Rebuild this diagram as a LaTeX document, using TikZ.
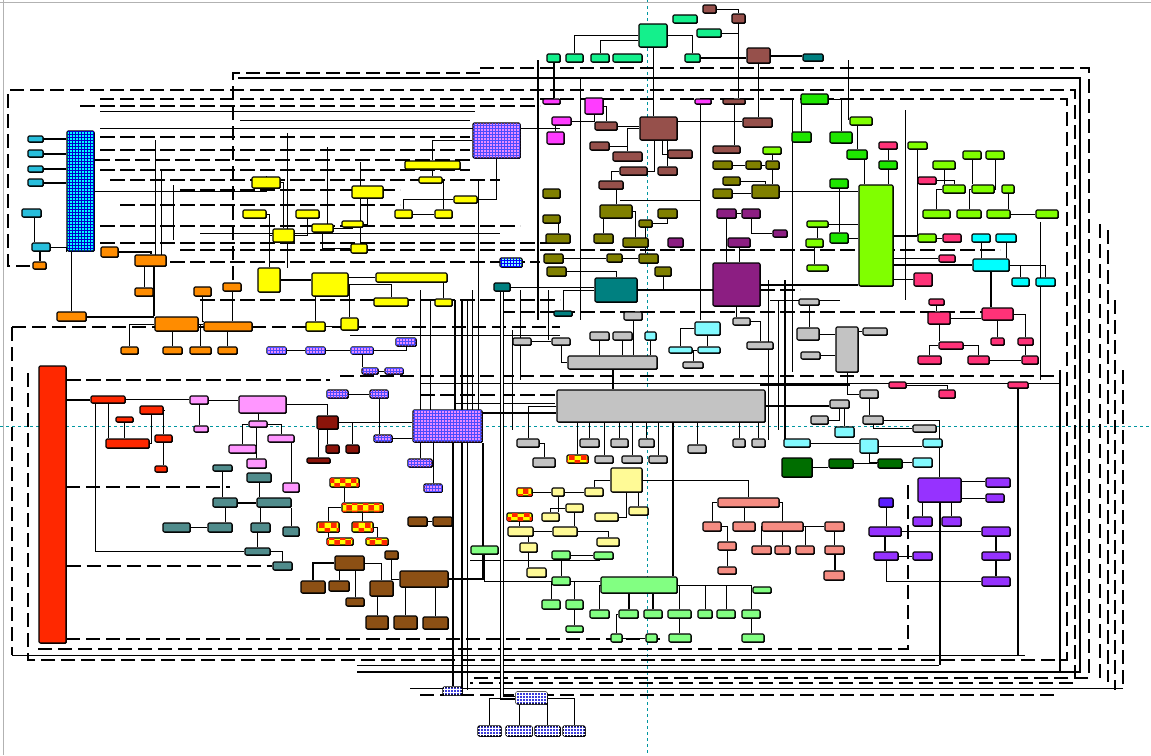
\documentclass[tikz,border=0pt]{standalone}
\usepackage{tikz}
\usetikzlibrary{fit,patterns,shadows,backgrounds}

\definecolor{mint}{RGB}{20,240,140}
\definecolor{rosebrn}{RGB}{150,80,75}
\definecolor{magen}{RGB}{255,60,255}
\definecolor{olv}{RGB}{128,128,0}
\definecolor{purp}{RGB}{140,30,130}
\definecolor{tealc}{RGB}{0,128,128}
\definecolor{cadet}{RGB}{80,140,140}
\definecolor{yel}{RGB}{255,255,0}
\definecolor{paleyel}{RGB}{255,250,150}
\definecolor{orng}{RGB}{255,140,0}
\definecolor{redor}{RGB}{255,40,0}
\definecolor{pinkl}{RGB}{255,150,255}
\definecolor{darkred}{RGB}{140,20,10}
\definecolor{sbrown}{RGB}{140,80,20}
\definecolor{greyc}{RGB}{195,195,195}
\definecolor{lcyan}{RGB}{130,250,255}
\definecolor{cyanc}{RGB}{0,255,255}
\definecolor{cyb}{RGB}{40,190,220}
\definecolor{grn}{RGB}{30,230,0}
\definecolor{chart}{RGB}{128,255,0}
\definecolor{hpink}{RGB}{255,50,120}
\definecolor{lgrn}{RGB}{130,255,130}
\definecolor{salm}{RGB}{245,140,130}
\definecolor{dgrn}{RGB}{0,110,0}
\definecolor{viol}{RGB}{150,50,255}
\definecolor{dblue}{RGB}{60,60,220}
\definecolor{plaid}{RGB}{235,140,255}
\definecolor{xline}{RGB}{0,150,160}

\tikzset{
  blk/.style={draw=black,line width=1.1pt,rounded corners=1.2pt,inner sep=0pt,
    drop shadow={shadow xshift=.8pt,shadow yshift=-.8pt,fill=black,opacity=1}},
  ptc/.style={fill=plaid,postaction={pattern=grid,pattern color=blue!70}},
  och/.style={fill=yel,postaction={pattern=checkerboard,pattern color=redor}},
  gridc/.style={fill=cyanc,postaction={pattern=grid,pattern color=blue!80!black}},
  bpat/.style={fill=dblue,postaction={pattern=grid,pattern color=white}},
  wire/.style={line width=1pt},
  fat/.style={line width=2pt},
  bus/.style={line width=1.8pt,dash pattern=on 14pt off 6pt},
  dbus/.style={line width=1.2pt,dash pattern=on 15pt off 5pt}
}
\newcommand{\boxat}[6]{\node[blk,#6,fit={(#2,#3) (#4,#5)}] (#1) {};}

\begin{document}
\begin{tikzpicture}[x=1pt,y=-1pt]
\useasboundingbox (0,0) rectangle (1151,755);
\draw[gray!60,line width=1pt] (0,2) -- (1151,2);
\draw[gray!60,line width=1pt] (3,0) -- (3,755);

% mint group
\boxat{mintA}{639}{24}{667}{47}{fill=mint}
\boxat{mint1}{547}{54}{560}{62}{fill=mint}
\boxat{mint2}{566}{54}{583}{62}{fill=mint}
\boxat{mint3}{591}{54}{609}{62}{fill=mint}
\boxat{mint4}{613}{54}{642}{62}{fill=mint}
\boxat{mint5}{685}{54}{700}{62}{fill=mint}
\boxat{mint6}{673}{15}{697}{23}{fill=mint}
\boxat{mint7}{697}{29}{721}{37}{fill=mint}
% rose brown group
\boxat{brs1}{703}{5}{716}{13}{fill=rosebrn}
\boxat{brs2}{732}{14}{745}{23}{fill=rosebrn}
\boxat{brn0}{747}{48}{770}{63}{fill=rosebrn}
\boxat{brnA}{640}{117}{677}{140}{fill=rosebrn}
\boxat{brn1}{595}{122}{617}{130}{fill=rosebrn}
\boxat{brn2}{590}{142}{609}{150}{fill=rosebrn}
\boxat{brn3}{613}{152}{642}{161}{fill=rosebrn}
\boxat{brn4}{620}{167}{647}{175}{fill=rosebrn}
\boxat{brn5}{599}{181}{623}{189}{fill=rosebrn}
\boxat{brn6}{658}{167}{677}{175}{fill=rosebrn}
\boxat{brn7}{668}{150}{692}{158}{fill=rosebrn}
\boxat{brn8}{723}{99}{745}{104}{fill=rosebrn}
\boxat{brn9}{743}{118}{772}{127}{fill=rosebrn}
\boxat{brn10}{713}{146}{740}{153}{fill=rosebrn}
\boxat{tls1}{803}{54}{823}{61}{fill=tealc}
% magenta group
\boxat{mg1}{543}{99}{560}{104}{fill=magen}
\boxat{mgB}{585}{98}{603}{114}{fill=magen}
\boxat{mg2}{552}{117}{571}{125}{fill=magen}
\boxat{mg3}{547}{132}{564}{144}{fill=magen}
\boxat{mg4}{695}{99}{711}{104}{fill=magen}
% olive group
\boxat{ol1}{713}{161}{732}{169}{fill=olv}
\boxat{ol2}{746}{161}{761}{169}{fill=olv}
\boxat{ol3}{766}{161}{779}{169}{fill=olv}
\boxat{ol4}{723}{177}{740}{185}{fill=olv}
\boxat{ol5}{713}{189}{732}{198}{fill=olv}
\boxat{olB}{752}{185}{779}{198}{fill=olv}
\boxat{ol6}{543}{189}{560}{198}{fill=olv}
\boxat{olC}{600}{205}{632}{218}{fill=olv}
\boxat{ol7}{543}{215}{560}{223}{fill=olv}
\boxat{ol8}{546}{234}{570}{243}{fill=olv}
\boxat{ol9}{594}{234}{613}{243}{fill=olv}
\boxat{ol10}{623}{238}{648}{247}{fill=olv}
\boxat{ol11}{658}{209}{677}{218}{fill=olv}
\boxat{ol12}{639}{220}{652}{227}{fill=olv}
\boxat{ol13}{544}{254}{563}{263}{fill=olv}
\boxat{ol14}{607}{254}{622}{262}{fill=olv}
\boxat{ol15}{639}{254}{658}{263}{fill=olv}
\boxat{ol16}{547}{267}{566}{276}{fill=olv}
\boxat{ol17}{655}{267}{671}{276}{fill=olv}
% purple group
\boxat{pu1}{717}{209}{736}{218}{fill=purp}
\boxat{pu2}{742}{209}{760}{218}{fill=purp}
\boxat{pu3}{728}{238}{750}{247}{fill=purp}
\boxat{pu4}{668}{238}{683}{247}{fill=purp}
\boxat{pu5}{773}{230}{787}{237}{fill=purp}
\boxat{puB}{713}{263}{760}{306}{fill=purp}
% teal group
\boxat{tlB}{595}{278}{637}{302}{fill=tealc}
\boxat{tl1}{494}{283}{510}{291}{fill=tealc}
\boxat{tl2}{554}{311}{572}{316}{fill=tealc}
\boxat{lcp}{500}{258}{522}{267}{fill=lcyan,postaction={pattern=grid,pattern color=blue}}
% patterned
\boxat{ptA}{473}{123}{520}{158}{ptc}
\boxat{ptB}{413}{410}{482}{442}{ptc}
\boxat{pt1}{267}{347}{286}{354}{ptc}
\boxat{pt2}{306}{347}{325}{354}{ptc}
\boxat{pt3}{351}{347}{373}{354}{ptc}
\boxat{pt4}{362}{368}{378}{374}{ptc}
\boxat{pt5}{385}{368}{403}{374}{ptc}
\boxat{pt6}{327}{390}{348}{398}{ptc}
\boxat{pt7}{370}{390}{388}{398}{ptc}
\boxat{pt8}{374}{435}{392}{442}{ptc}
\boxat{pt9}{408}{459}{432}{467}{ptc}
\boxat{pt10}{424}{484}{442}{492}{ptc}
\boxat{pt11}{396}{338}{416}{346}{ptc}
% cyan column
\boxat{colA}{67}{131}{94}{251}{gridc}
\boxat{cy1}{28}{136}{43}{142}{fill=cyb}
\boxat{cy2}{28}{150}{43}{157}{fill=cyb}
\boxat{cy3}{28}{166}{43}{172}{fill=cyb}
\boxat{cy4}{28}{179}{43}{186}{fill=cyb}
\boxat{cy5}{22}{209}{41}{217}{fill=cyb}
\boxat{cy6}{32}{243}{50}{251}{fill=cyb}
% orange group
\boxat{or1}{33}{262}{46}{269}{fill=orng}
\boxat{or2}{101}{247}{118}{257}{fill=orng}
\boxat{or3}{135}{255}{166}{266}{fill=orng}
\boxat{or4}{135}{288}{153}{296}{fill=orng}
\boxat{or5}{194}{287}{211}{296}{fill=orng}
\boxat{or6}{223}{283}{241}{291}{fill=orng}
\boxat{or7}{57}{312}{86}{321}{fill=orng}
\boxat{orB}{155}{317}{198}{331}{fill=orng}
\boxat{or8}{204}{322}{252}{331}{fill=orng}
\boxat{or9}{121}{347}{138}{354}{fill=orng}
\boxat{or10}{163}{347}{182}{354}{fill=orng}
\boxat{or11}{190}{347}{211}{354}{fill=orng}
\boxat{or12}{218}{347}{237}{354}{fill=orng}
% yellow group
\boxat{ye1}{252}{177}{280}{188}{fill=yel}
\boxat{ye2}{243}{210}{266}{218}{fill=yel}
\boxat{ye3}{296}{210}{319}{218}{fill=yel}
\boxat{ye4}{273}{229}{294}{242}{fill=yel}
\boxat{ye5}{312}{224}{333}{232}{fill=yel}
\boxat{ye6}{342}{221}{363}{227}{fill=yel}
\boxat{ye7}{352}{186}{383}{198}{fill=yel}
\boxat{ye8}{351}{244}{367}{253}{fill=yel}
\boxat{yeB1}{258}{268}{280}{292}{fill=yel}
\boxat{yeB2}{312}{273}{348}{296}{fill=yel}
\boxat{ye9}{374}{298}{408}{306}{fill=yel}
\boxat{ye10}{306}{322}{325}{331}{fill=yel}
\boxat{ye11}{341}{318}{358}{330}{fill=yel}
\boxat{ye12}{395}{210}{412}{218}{fill=yel}
\boxat{ye13}{405}{161}{460}{169}{fill=yel}
\boxat{ye14}{419}{177}{442}{183}{fill=yel}
\boxat{ye15}{454}{196}{477}{203}{fill=yel}
\boxat{ye16}{435}{210}{452}{218}{fill=yel}
\boxat{ye17}{376}{273}{447}{282}{fill=yel}
\boxat{ye18}{435}{299}{452}{306}{fill=yel}
% grey group
\boxat{grB}{557}{390}{765}{422}{fill=greyc}
\boxat{gr1}{624}{312}{642}{320}{fill=greyc}
\boxat{gr2}{513}{338}{531}{345}{fill=greyc}
\boxat{gr3}{552}{338}{570}{345}{fill=greyc}
\boxat{gr4}{590}{332}{609}{340}{fill=greyc}
\boxat{gr5}{613}{332}{632}{340}{fill=greyc}
\boxat{grC}{568}{356}{657}{369}{fill=greyc}
\boxat{gr6}{733}{318}{750}{325}{fill=greyc}
\boxat{gr7}{747}{342}{773}{349}{fill=greyc}
\boxat{gr8}{683}{362}{703}{368}{fill=greyc}
\boxat{gr9}{799}{299}{819}{305}{fill=greyc}
\boxat{gr10}{797}{328}{819}{340}{fill=greyc}
\boxat{grD}{836}{327}{858}{372}{fill=greyc}
\boxat{gr11}{863}{328}{887}{335}{fill=greyc}
\boxat{gr12}{801}{352}{820}{359}{fill=greyc}
\boxat{gr13}{860}{390}{878}{398}{fill=greyc}
\boxat{gr14}{830}{400}{849}{408}{fill=greyc}
\boxat{gr15}{811}{416}{828}{424}{fill=greyc}
\boxat{gr16}{863}{416}{883}{424}{fill=greyc}
\boxat{gr17}{913}{425}{936}{432}{fill=greyc}
\boxat{gr18}{752}{439}{765}{447}{fill=greyc}
\boxat{gr19}{517}{439}{539}{447}{fill=greyc}
\boxat{gr20}{580}{439}{599}{447}{fill=greyc}
\boxat{gr21}{611}{439}{628}{447}{fill=greyc}
\boxat{gr22}{639}{439}{654}{447}{fill=greyc}
\boxat{gr23}{733}{439}{745}{447}{fill=greyc}
\boxat{gr24}{533}{458}{555}{467}{fill=greyc}
\boxat{gr25}{595}{456}{613}{463}{fill=greyc}
\boxat{gr26}{622}{456}{642}{463}{fill=greyc}
\boxat{gr27}{649}{456}{667}{463}{fill=greyc}
\boxat{gr28}{688}{445}{706}{453}{fill=greyc}
% light cyan group
\boxat{lc1}{695}{322}{720}{335}{fill=lcyan}
\boxat{lc2}{669}{347}{692}{353}{fill=lcyan}
\boxat{lc3}{698}{347}{720}{353}{fill=lcyan}
\boxat{lc4}{645}{332}{656}{340}{fill=lcyan}
\boxat{lc5}{835}{427}{854}{437}{fill=lcyan}
\boxat{lc6}{784}{439}{810}{447}{fill=lcyan}
\boxat{lc7}{860}{439}{878}{453}{fill=lcyan}
\boxat{lc8}{923}{439}{942}{447}{fill=lcyan}
\boxat{lc9}{913}{458}{932}{467}{fill=lcyan}
% green group
\boxat{gn1}{801}{94}{828}{104}{fill=grn}
\boxat{gn2}{792}{132}{811}{142}{fill=grn}
\boxat{gn3}{830}{132}{852}{143}{fill=grn}
\boxat{gn4}{847}{150}{867}{159}{fill=grn}
\boxat{gn5}{830}{179}{848}{188}{fill=grn}
\boxat{gn6}{879}{161}{897}{169}{fill=grn}
\boxat{gn7}{830}{233}{848}{243}{fill=grn}
% chartreuse group
\boxat{ch1}{850}{117}{872}{125}{fill=chart}
\boxat{ch2}{763}{147}{781}{154}{fill=chart}
\boxat{chB}{859}{185}{893}{286}{fill=chart}
\boxat{ch3}{908}{142}{927}{149}{fill=chart}
\boxat{ch4}{963}{151}{981}{159}{fill=chart}
\boxat{ch5}{986}{151}{1004}{159}{fill=chart}
\boxat{ch6}{933}{161}{955}{169}{fill=chart}
\boxat{ch7}{943}{185}{965}{193}{fill=chart}
\boxat{ch8}{972}{185}{994}{193}{fill=chart}
\boxat{ch9}{1002}{185}{1014}{193}{fill=chart}
\boxat{ch10}{923}{210}{950}{218}{fill=chart}
\boxat{ch11}{957}{210}{981}{218}{fill=chart}
\boxat{ch12}{987}{210}{1010}{218}{fill=chart}
\boxat{ch13}{1036}{210}{1058}{218}{fill=chart}
\boxat{ch14}{918}{234}{936}{242}{fill=chart}
\boxat{ch15}{807}{221}{828}{227}{fill=chart}
\boxat{ch16}{806}{239}{823}{247}{fill=chart}
\boxat{ch17}{807}{265}{828}{271}{fill=chart}
% hot pink group
\boxat{hp1}{879}{142}{897}{149}{fill=hpink}
\boxat{hp2}{918}{177}{936}{184}{fill=hpink}
\boxat{hp3}{943}{234}{961}{242}{fill=hpink}
\boxat{hp4}{939}{255}{955}{262}{fill=hpink}
\boxat{hp5}{914}{273}{932}{286}{fill=hpink}
\boxat{hp6}{929}{299}{944}{305}{fill=hpink}
\boxat{hp7}{928}{312}{950}{324}{fill=hpink}
\boxat{hpB}{982}{308}{1013}{320}{fill=hpink}
\boxat{hp8}{939}{342}{963}{349}{fill=hpink}
\boxat{hp9}{918}{356}{941}{364}{fill=hpink}
\boxat{hp10}{968}{356}{989}{364}{fill=hpink}
\boxat{hp11}{991}{338}{1004}{345}{fill=hpink}
\boxat{hp12}{1018}{338}{1033}{345}{fill=hpink}
\boxat{hp13}{1022}{356}{1038}{364}{fill=hpink}
\boxat{hp14}{889}{382}{906}{388}{fill=hpink}
\boxat{hp15}{939}{390}{955}{398}{fill=hpink}
\boxat{hp16}{1008}{382}{1028}{388}{fill=hpink}
% cyan group
\boxat{cn1}{972}{234}{990}{242}{fill=cyanc}
\boxat{cn2}{996}{234}{1016}{242}{fill=cyanc}
\boxat{cnB}{973}{259}{1009}{271}{fill=cyanc}
\boxat{cn3}{1012}{278}{1029}{286}{fill=cyanc}
\boxat{cn4}{1036}{278}{1055}{286}{fill=cyanc}
% red group
\boxat{rdB}{39}{366}{66}{643}{fill=redor}
\boxat{rd1}{91}{396}{125}{403}{fill=redor}
\boxat{rd2}{140}{406}{163}{414}{fill=redor}
\boxat{rd3}{116}{417}{133}{422}{fill=redor}
\boxat{rd4}{106}{439}{149}{448}{fill=redor}
\boxat{rd5}{155}{435}{172}{442}{fill=redor}
\boxat{rd6}{155}{466}{167}{472}{fill=redor}
% light pink group
\boxat{lp1}{190}{396}{208}{404}{fill=pinkl}
\boxat{lpB}{239}{396}{286}{413}{fill=pinkl}
\boxat{lp2}{194}{426}{208}{432}{fill=pinkl}
\boxat{lp3}{249}{421}{267}{427}{fill=pinkl}
\boxat{lp4}{268}{435}{294}{442}{fill=pinkl}
\boxat{lp5}{229}{445}{256}{453}{fill=pinkl}
\boxat{lp6}{247}{459}{266}{468}{fill=pinkl}
\boxat{lp7}{283}{483}{299}{492}{fill=pinkl}
% dark red group
\boxat{dr1}{317}{416}{338}{429}{fill=darkred}
\boxat{dr2}{326}{445}{339}{453}{fill=darkred}
\boxat{dr3}{346}{445}{359}{453}{fill=darkred}
\boxat{dr4}{307}{458}{330}{463}{fill=darkred}
% cadet group
\boxat{ct1}{213}{465}{232}{471}{fill=cadet}
\boxat{ct2}{247}{473}{271}{482}{fill=cadet}
\boxat{ct3}{213}{498}{237}{507}{fill=cadet}
\boxat{ct4}{257}{498}{291}{507}{fill=cadet}
\boxat{ct5}{163}{523}{190}{532}{fill=cadet}
\boxat{ct6}{208}{523}{232}{532}{fill=cadet}
\boxat{ct7}{251}{523}{270}{532}{fill=cadet}
\boxat{ct8}{283}{527}{299}{536}{fill=cadet}
\boxat{ct9}{245}{548}{270}{555}{fill=cadet}
\boxat{ct10}{273}{562}{292}{570}{fill=cadet}
% checker group
\boxat{oc1}{330}{478}{359}{487}{och}
\boxat{oc2}{342}{503}{383}{512}{och}
\boxat{oc3}{317}{522}{339}{532}{och}
\boxat{oc4}{352}{522}{373}{532}{och}
\boxat{oc5}{327}{538}{353}{545}{och}
\boxat{oc6}{366}{538}{388}{545}{och}
\boxat{oc7}{567}{455}{588}{463}{och}
\boxat{oc8}{517}{488}{532}{496}{och}
\boxat{oc9}{507}{513}{532}{521}{och}
% saddle brown group
\boxat{sbA}{335}{556}{364}{570}{fill=sbrown}
\boxat{sb1}{301}{581}{325}{593}{fill=sbrown}
\boxat{sb2}{329}{581}{349}{591}{fill=sbrown}
\boxat{sb3}{370}{581}{393}{596}{fill=sbrown}
\boxat{sb4}{346}{598}{364}{606}{fill=sbrown}
\boxat{sb5}{366}{616}{388}{629}{fill=sbrown}
\boxat{sb6}{394}{616}{417}{629}{fill=sbrown}
\boxat{sb7}{423}{617}{448}{629}{fill=sbrown}
\boxat{sbB}{400}{571}{448}{587}{fill=sbrown}
\boxat{sb8}{385}{551}{398}{559}{fill=sbrown}
\boxat{sb9}{408}{517}{427}{526}{fill=sbrown}
\boxat{sb10}{433}{517}{452}{526}{fill=sbrown}
% pale yellow group
\boxat{pyB}{611}{468}{642}{492}{fill=paleyel}
\boxat{py1}{552}{488}{564}{496}{fill=paleyel}
\boxat{py2}{585}{488}{603}{496}{fill=paleyel}
\boxat{py3}{566}{504}{583}{512}{fill=paleyel}
\boxat{py4}{542}{513}{559}{521}{fill=paleyel}
\boxat{py5}{595}{513}{618}{521}{fill=paleyel}
\boxat{py6}{629}{507}{648}{515}{fill=paleyel}
\boxat{py7}{508}{527}{533}{536}{fill=paleyel}
\boxat{py8}{553}{527}{577}{536}{fill=paleyel}
\boxat{py9}{597}{538}{619}{546}{fill=paleyel}
\boxat{py10}{520}{543}{537}{552}{fill=paleyel}
\boxat{py11}{527}{568}{546}{577}{fill=paleyel}
% light green group
\boxat{lg1}{471}{546}{498}{554}{fill=lgrn}
\boxat{lg2}{552}{551}{570}{559}{fill=lgrn}
\boxat{lg3}{594}{552}{613}{559}{fill=lgrn}
\boxat{lg4}{552}{577}{570}{585}{fill=lgrn}
\boxat{lgB}{601}{577}{677}{593}{fill=lgrn}
\boxat{lg5}{542}{600}{560}{609}{fill=lgrn}
\boxat{lg6}{566}{600}{583}{609}{fill=lgrn}
\boxat{lg7}{590}{610}{609}{618}{fill=lgrn}
\boxat{lg8}{619}{610}{638}{618}{fill=lgrn}
\boxat{lg9}{644}{610}{662}{618}{fill=lgrn}
\boxat{lg10}{668}{610}{691}{618}{fill=lgrn}
\boxat{lg11}{698}{610}{712}{618}{fill=lgrn}
\boxat{lg12}{717}{610}{735}{618}{fill=lgrn}
\boxat{lg13}{742}{610}{760}{618}{fill=lgrn}
\boxat{lg14}{566}{626}{583}{632}{fill=lgrn}
\boxat{lg15}{611}{634}{622}{642}{fill=lgrn}
\boxat{lg16}{646}{634}{657}{642}{fill=lgrn}
\boxat{lg17}{669}{634}{691}{642}{fill=lgrn}
\boxat{lg18}{742}{634}{764}{642}{fill=lgrn}
\boxat{lg19}{753}{587}{771}{593}{fill=lgrn}
% salmon group
\boxat{saB}{718}{498}{779}{507}{fill=salm}
\boxat{sa1}{703}{522}{721}{531}{fill=salm}
\boxat{sa2}{733}{522}{755}{531}{fill=salm}
\boxat{sa3}{762}{522}{803}{531}{fill=salm}
\boxat{sa4}{718}{542}{736}{550}{fill=salm}
\boxat{sa5}{752}{546}{771}{554}{fill=salm}
\boxat{sa6}{775}{546}{790}{554}{fill=salm}
\boxat{sa7}{796}{546}{814}{554}{fill=salm}
\boxat{sa8}{718}{567}{736}{574}{fill=salm}
\boxat{sa9}{825}{522}{844}{531}{fill=salm}
\boxat{sa10}{825}{546}{844}{554}{fill=salm}
\boxat{sa11}{824}{571}{844}{580}{fill=salm}
% dark green group
\boxat{dgB}{782}{458}{812}{477}{fill=dgrn}
\boxat{dg1}{829}{459}{853}{468}{fill=dgrn}
\boxat{dg2}{878}{459}{902}{468}{fill=dgrn}
% violet group
\boxat{viB}{918}{478}{961}{502}{fill=viol}
\boxat{vi1}{986}{478}{1010}{487}{fill=viol}
\boxat{vi2}{986}{494}{1004}{502}{fill=viol}
\boxat{vi3}{879}{498}{893}{507}{fill=viol!60!blue}
\boxat{vi4}{913}{517}{932}{526}{fill=viol}
\boxat{vi5}{942}{517}{961}{526}{fill=viol}
\boxat{vi6}{869}{527}{901}{536}{fill=viol}
\boxat{vi7}{982}{527}{1010}{536}{fill=viol}
\boxat{vi8}{874}{552}{898}{560}{fill=viol}
\boxat{vi9}{913}{552}{932}{560}{fill=viol}
\boxat{vi10}{982}{552}{1010}{560}{fill=viol}
\boxat{vi11}{982}{577}{1010}{586}{fill=viol}
% blue group
\boxat{bp1}{443}{687}{462}{695}{bpat}
\boxat{bpB}{516}{692}{547}{704}{bpat}
\boxat{bp2}{478}{726}{501}{736}{bpat}
\boxat{bp3}{506}{726}{532}{736}{bpat}
\boxat{bp4}{535}{726}{560}{736}{bpat}
\boxat{bp5}{563}{726}{585}{736}{bpat}

\coordinate (b655) at (0,655);
\coordinate (b665) at (0,665);

\begin{scope}[on background layer]
% cross lines
\draw[xline,dashed,line width=.8pt] (647,0) -- (647,755);
\draw[xline,dashed,line width=.8pt] (0,426) -- (1151,426);
% outer loops
\draw[bus] (480,68) -- (1089,68) -- (1089,678) -- (470,678);
\draw[fat] (238,78) -- (1080,78) -- (1080,672) -- (357,672);
\draw[bus] (30,266) -- (8,266) -- (8,90) -- (1075,90) -- (1075,683) -- (470,683);
\draw[bus] (100,99) -- (1067,99) -- (1067,660) -- (28,660) -- (28,370);
\draw[dbus] (80,106) -- (540,106);
\draw[wire] (100,111) -- (475,111);
\draw[bus] (233,280) -- (233,73) -- (480,73);
\draw[bus] (12,327) -- (560,327);
\draw[bus] (12,327) -- (12,655);
\draw[wire] (12,655) -- (1025,655);
\draw[bus] (38,649) -- (908,649) -- (908,480);
\draw[bus] (66,639) -- (660,639);
\draw[wire] (357,665) -- (939,665);
\draw[bus] (1123,370) -- (1123,688);
\draw[wire] (1123,688) -- (410,688);
\draw[bus] (1100,224) -- (1100,682);
\draw[bus] (1108,230) -- (1108,682);
\draw[bus] (1115,300) -- (1115,690);
\draw[bus] (420,695) -- (1057,695);
\draw[fat] (1060,370) -- (1060,672);
\draw[wire] (1040,222) -- (1040,380);
% inner lines, left part
\draw[wire] (100,128) -- (560,128);
\draw[dbus] (100,137) -- (470,137);
\draw[dbus] (100,150) -- (470,150);
\draw[dbus] (95,160) -- (470,160);
\draw[dbus] (100,170) -- (470,170);
\draw[dbus] (110,180) -- (500,180);
\draw[dbus] (180,190) -- (400,190);
\draw[dbus] (120,205) -- (400,205);
\draw[dbus] (100,226) -- (520,226);
\draw[wire] (200,233) -- (500,233);
\draw[dbus] (100,243) -- (560,243);
\draw[dbus] (180,250) -- (560,250);
\draw[dbus] (170,262) -- (540,262);
\draw[dbus] (200,300) -- (560,300);
\draw[wire] (240,120) -- (470,120);
\draw[wire] (155,140) -- (155,255);
\draw[wire] (161,171) -- (161,255);
\draw[wire] (173,185) -- (173,240);
\draw[wire] (287,133) -- (287,268);
\draw[wire] (327,147) -- (327,230);
\draw[wire] (360,162) -- (360,245);
\draw[dbus] (66,380) -- (330,380);
\draw[bus] (66,487) -- (230,487);
% inner lines, middle part
\draw[fat] (538,60) -- (538,320);
\draw[wire] (580,78) -- (580,320);
\draw[fat] (455,300) -- (455,410);
\draw[fat] (462,300) -- (462,690);
\draw[wire] (467,300) -- (467,690);
\draw[wire] (420,290) -- (420,410);
\draw[wire] (430,300) -- (430,410);
\draw[wire] (472,290) -- (472,410);
\draw[wire] (478,180) -- (478,410);
\draw[wire] (512,330) -- (512,430);
\draw[wire] (520,290) -- (520,380);
\draw[wire] (548,290) -- (548,340);
\draw[bus] (340,376) -- (1060,376);
\draw[wire] (420,383) -- (1060,383);
\draw[dbus] (420,395) -- (555,395);
\draw[wire] (455,403) -- (555,403);
\draw[wire] (350,335) -- (560,335);
\draw[dbus] (500,312) -- (1000,312);
\draw[dbus] (560,250) -- (1000,250);
\draw[wire] (470,560) -- (600,560);
\draw[wire] (620,200) -- (700,200);
\draw[dbus] (680,290) -- (800,290);
% inner lines, right part
\draw[wire] (700,100) -- (700,320);
\draw[wire] (792,100) -- (792,372);
\draw[fat] (785,280) -- (785,440);
\draw[wire] (768,280) -- (768,440);
\draw[wire] (778,300) -- (778,430);
\draw[fat] (760,385) -- (850,385);
\draw[wire] (770,300) -- (840,300);
\draw[wire] (848,60) -- (848,120);
\draw[wire] (905,110) -- (905,300);
% mint links
\draw[wire] (mintA.west) -| (mint2.north);
\draw[wire] (mintA.200) -| (mint3.north);
\draw[wire] (mintA.east) -| (mint5.north);
\draw[wire] (mintA.south) -- (mintA.south |- brnA.north);
\draw[fat] (mint1.south) -- (mint1.south |- mg1.north);
\draw[fat] (mint5.east) -- (mint5.east -| brn0.west);
\draw[fat] (brn0.east) -- (brn0.east -| tls1.west);
\draw[wire] (mint7.east) -| (brs2.south);
\draw[wire] (brs1.east) -| (brs2.north);
\draw[wire] (brs2.south) -- (brs2.south |- brn8.north);
% rose brown links
\draw[wire] (brn1.east) -- (brn1.east -| brnA.west);
\draw[wire] (brn6.north) -- (brn6.north |- brnA.south);
\draw[wire] (brn3.north) |- (brnA.west);
\draw[wire] (brnA.20) -- (brnA.20 -| brn9.west);
\draw[wire] (brn8.south) -- (brn8.south |- brn10.north);
\draw[wire] (brn4.east) -| (brnA.250);
\draw[wire] (brn5.north) |- (brn4.west);
\draw[wire] (brn2.east) -| (brn3.north);
\draw[wire] (brn7.west) -| (brnA.290);
\draw[wire] (brn0.south) -- (brn0.south |- brn9.north);
% magenta links
\draw[wire] (mg2.east) -| (mgB.south);
\draw[wire] (mgB.east) -| (brn1.north);
\draw[wire] (mg3.north) -- (mg3.north |- mg2.south);
% olive links
\draw[wire] (ol1.east) -- (ol2.west);
\draw[wire] (ol2.east) -- (ol3.west);
\draw[wire] (ol5.east) -- (ol5.east -| olB.west);
\draw[wire] (ol4.east) -| (olB.north);
\draw[wire] (ol3.south) -- (ol3.south |- olB.north);
\draw[wire] (olB.east) -- (olB.east -| chB.west);
\draw[wire] (olC.north) -- (olC.north |- brn5.south);
\draw[wire] (ol9.north) -- (ol9.north |- olC.south);
\draw[wire] (ol10.north) |- (olC.east);
\draw[wire] (ol8.north) -- (ol8.north |- ol7.south);
\draw[wire] (ol13.east) -- (ol13.east -| ol14.west);
\draw[wire] (ol14.east) -- (ol14.east -| ol15.west);
\draw[wire] (ol16.east) -| (tlB.north);
\draw[wire] (ol17.south) |- (tlB.east);
\draw[wire] (ol11.south) |- (ol12.east);
\draw[wire] (ol12.south) -- (ol12.south |- ol15.north);
% purple links
\draw[wire] (pu1.east) -- (pu2.west);
\draw[wire] (pu3.south) -- (pu3.south |- puB.north);
\draw[wire] (pu1.south) -- (pu1.south |- puB.north);
\draw[wire] (pu5.west) -| (pu2.south);
\draw[fat] (tlB.east) -- (tlB.east -| puB.west);
\draw[fat] (puB.east) -- (puB.east -| chB.west);
\draw[wire] (puB.south) -- (puB.south |- gr6.north);
% teal links
\draw[wire] (tl2.north) |- (tlB.west);
\draw[wire] (tl1.east) -- (tl1.east -| tlB.west);
\draw[wire,double,double distance=1.2pt] (tl1.south) |- (bpB.west);
% grey links
\draw[wire] (gr4.south) -- (gr4.south |- grC.north);
\draw[wire] (gr5.south) -- (gr5.south |- grC.north);
\draw[wire] (gr2.east) -- (gr3.west);
\draw[wire] (gr3.south) |- (grC.west);
\draw[fat] (grC.south) -- (grC.south |- grB.north);
\draw[wire] (gr1.south) -- (gr1.south |- grC.north);
\draw[wire] (lc4.south) -- (lc4.south |- grC.north);
\draw[wire] (lc1.south) -- (lc1.south |- lc3.north);
\draw[wire] (lc1.west) -| (lc2.north);
\draw[wire] (gr6.east) -| (gr7.north);
\draw[wire] (gr8.north) |- (lc3.west);
\draw[wire] (gr19.north) |- (grB.west);
\foreach \n in {gr20,gr21,gr22,gr23,gr18,gr25,gr26,gr27,gr28,oc7}
  \draw[wire] (\n.north) -- (\n.north |- grB.south);
\draw[wire] (gr24.north) |- (gr19.east);
\draw[fat] (grB.east) -- (grB.east -| gr14.west);
\draw[wire] (gr10.east) -- (gr10.east -| grD.west);
\draw[wire] (gr11.west) -- (gr11.west -| grD.east);
\draw[wire] (gr12.east) -- (gr12.east -| grD.west);
\draw[wire] (gr9.south) -- (gr9.south |- gr10.north);
\draw[wire] (grD.south) |- (gr13.west);
\draw[wire] (gr13.south) -- (gr13.south |- gr16.north);
\draw[wire] (gr14.south) |- (gr15.east);
\draw[wire] (lc5.north) -- (lc5.north |- gr14.south);
\draw[wire] (lc6.east) -- (lc6.east -| lc7.west);
\draw[wire] (lc7.east) -- (lc7.east -| lc8.west);
\draw[wire] (lc7.south) |- (lc9.west);
\draw[wire] (gr17.west) -| (gr16.south);
\draw[wire] (dgB.east) -- (dgB.east -| dg1.west);
\draw[wire] (dg1.east) -- (dg1.east -| dg2.west);
% green and chartreuse links
\draw[wire] (gn2.north) |- (gn1.west);
\draw[wire] (gn3.north) |- (gn1.east);
\draw[wire] (gn4.north) -- (gn4.north |- ch1.south);
\draw[wire] ([xshift=6pt]chB.north west) -- ([xshift=6pt]chB.north west |- gn4.south);
\draw[wire] (gn6.south) -- (gn6.south |- chB.north);
\draw[wire] (hp1.south) -- (hp1.south |- gn6.north);
\draw[wire] (gn5.south) -- (gn5.south |- gn7.north);
\draw[wire] (gn7.east) -- (gn7.east -| chB.west);
\draw[wire] (ch2.south) -- (ch2.south |- ol3.north);
\draw[wire] (ch15.south) -- (ch15.south |- ch16.north);
\draw[wire] (ch16.south) -- (ch16.south |- ch17.north);
\draw[wire] (ch15.east) -- (ch15.east -| chB.west);
\draw[wire] (ch3.south) |- (chB.east);
\draw[wire] (hp2.east) -| (ch7.north);
\draw[wire] (ch6.south) -- (ch6.south |- ch7.north);
\draw[wire] (ch4.south) -- (ch4.south |- ch8.north);
\draw[wire] (ch5.south) |- (ch8.east);
\draw[wire] (ch10.north) |- (ch7.west);
\draw[wire] (ch11.north) |- (ch8.west);
\draw[wire] (ch9.south) -- (ch9.south |- ch12.north);
\draw[wire] (ch12.east) -- (ch12.east -| ch13.west);
\draw[fat] (chB.east) -- (chB.east -| ch14.west);
\draw[wire] (ch14.east) -- (ch14.east -| hp3.west);
\draw[wire] (hp4.west) -- (hp4.west -| chB.east);
\draw[wire] (hp5.west) -- (hp5.west -| chB.east);
\draw[fat] (chB.east |- cnB.west) -- (cnB.west);
% pink and cyan links
\draw[wire] (cn1.south) -- (cn1.south |- cnB.north);
\draw[wire] (cn2.south) -- (cn2.south |- cnB.north);
\draw[wire] (cnB.east) -| (cn3.north);
\draw[wire] (cnB.east) -| (cn4.north);
\draw[fat] (cnB.south) -- (cnB.south |- hpB.north);
\draw[wire] (hp7.east) -- (hp7.east -| hpB.west);
\draw[wire] (hp6.south) -- (hp6.south |- hp7.north);
\draw[wire] (hp7.south) -- (hp7.south |- hp8.north);
\draw[wire] (hp8.west) -| (hp9.north);
\draw[wire] (hp8.east) -| (hp10.north);
\draw[wire] (hpB.south) -- (hpB.south |- hp11.north);
\draw[wire] (hpB.east) -| (hp12.north);
\draw[wire] (hp12.south) -- (hp12.south |- hp13.north);
\draw[wire] (hp10.east) -- (hp10.east -| hp13.west);
\draw[fat] (hp16.south) -- (hp16.south |- b655);
\draw[wire] (hp14.east) -| (hp15.north);
% red links
\draw[fat] (rdB.east |- rd1.west) -- (rd1.west);
\draw[wire] (rd1.south) -- (rd1.south |- rd4.north);
\draw[wire] (rd3.south) -- (rd3.south |- rd4.north);
\draw[wire] (rd2.south) |- (rd4.east);
\draw[wire] (rd5.south) -- (rd5.south |- rd6.north);
\draw[wire] (rd5.north) |- (rd2.east);
\draw[wire] (rd1.east) -- (rd1.east -| lp1.west);
\draw[wire] ([xshift=5pt]rd1.south west) |- (ct9.west);
\draw[bus] (rdB.east |- ct10.west) -- (ct10.west);
% light pink links
\draw[wire] (lp1.east) -- (lp1.east -| lpB.west);
\draw[wire] (lp1.south) -- (lp1.south |- lp2.north);
\draw[wire] (lp3.north) -- (lp3.north |- lpB.south);
\draw[wire] (lp5.north) |- (lp3.west);
\draw[wire] (lp3.east) -| (lp4.north);
\draw[wire] (lp6.north) -- (lp6.north |- lp3.south);
\draw[wire] (lp7.north) -- (lp7.north |- lp4.south);
\draw[wire] (lpB.east) -| (dr1.north);
% dark red links
\draw[wire] (dr1.south) -- (dr1.south |- dr2.north);
\draw[wire] (dr1.east) -| (dr3.north);
\draw[wire] (dr4.north) -- (dr4.north |- dr1.south);
\draw[wire] (dr1.east) -- (dr1.east -| ptB.west);
% cadet links
\draw[wire] (ct1.south) -- (ct1.south |- ct3.north);
\draw[wire] (ct2.south) -- (ct2.south |- ct4.north);
\draw[fat] (ct3.east) -- (ct3.east -| ct4.west);
\draw[wire] (ct5.east) -- (ct5.east -| ct6.west);
\draw[wire] (ct7.north) -- (ct7.north |- ct4.south);
\draw[wire] (ct8.north) -- (ct8.north |- ct4.south);
\draw[wire] (ct3.south) -- (ct3.south |- ct6.north);
\draw[wire] (ct9.north) -- (ct9.north |- ct7.south);
\draw[wire] (ct10.north) |- (ct9.east);
% checker links
\draw[wire] (oc1.south) -- (oc1.south |- oc2.north);
\draw[wire] (oc3.north) |- (oc2.west);
\draw[wire] (oc4.north) -- (oc4.north |- oc2.south);
\draw[wire] (oc3.south) -- (oc3.south |- oc5.north);
\draw[wire] (oc6.north) |- (oc4.east);
% saddle brown links
\draw[fat] (sbA.west) -| (sb1.north);
\draw[wire] (sb2.north) -- (sb2.north |- sbA.south);
\draw[wire] (sbA.east) -| (sb3.north);
\draw[wire] (sb4.north) -- (sb4.north |- sbA.south);
\draw[wire] (sb5.north) -- (sb5.north |- sb3.south);
\draw[wire] (sb8.south) |- (sbB.west);
\draw[wire] (sbB.south -| sb6.north) -- (sb6.north);
\draw[wire] (sb7.north) -- (sb7.north |- sbB.south);
\draw[wire] (sb9.east) -- (sb9.east -| sb10.west);
\draw[fat] (sbB.east) -| (ptB.south east);
% pale yellow links
\draw[wire] (py2.north) |- (pyB.west);
\draw[wire] (py6.north) -- (py6.north |- pyB.south);
\draw[wire] (py5.east) -| (pyB.south);
\draw[wire] (py1.east) -- (py1.east -| py2.west);
\draw[wire] (oc8.east) -- (oc8.east -| py1.west);
\draw[wire] (py4.north) |- (py3.west);
\draw[wire] (py1.south) -- (py1.south |- py4.north);
\draw[wire] (py3.south) -- (py3.south |- py8.north);
\draw[wire] (oc9.south) -- (oc9.south |- py7.north);
\draw[wire] (py7.east) -- (py7.east -| py8.west);
\draw[wire] (py8.east) -| (py9.north);
\draw[wire] (py10.north) -- (py10.north |- py7.south);
\draw[wire] (py10.south) -- (py10.south |- py11.north);
\draw[wire] (pyB.east) -| (saB.north);
% light green links
\draw[wire] (lg2.east) -- (lg2.east -| lg3.west);
\draw[wire] (lg2.south) -- (lg2.south |- lg4.north);
\draw[wire] (lg4.east) -- (lg4.east -| lgB.west);
\draw[wire] (lg5.north) |- (lg4.west);
\draw[wire] (lg6.north) |- (lg4.east);
\draw[wire] (lg14.north) -- (lg14.north |- lg6.south);
\draw[wire] (lg7.north) |- (lgB.west);
\foreach \n in {lg8,lg9}
  \draw[fat] (\n.north) -- (\n.north |- lgB.south);
\draw[wire] (lg10.north) |- (lgB.east);
\draw[wire] (lgB.east) -| (lg11.north);
\draw[wire] (lgB.east) -| (lg12.north);
\draw[wire] (lgB.east) -| (lg13.north);
\draw[wire] (lg15.north) |- (lg8.west);
\draw[wire] (lg15.east) -- (lg15.east -| lg16.west);
\draw[wire] (lg10.south) -- (lg10.south |- lg17.north);
\draw[wire] (lg13.south) -- (lg13.south |- lg18.north);
\draw[wire] (lg19.west) -| (lg13.north);
\draw[wire] (lg1.south) |- (lg4.west);
\draw[fat] ([xshift=-5pt]lgB.north east) -- ([xshift=-5pt]lgB.north east |- grB.south);
% salmon links
\draw[wire] (saB.south -| sa2.north) -- (sa2.north);
\draw[wire] (sa3.north) |- (saB.east);
\draw[wire] (sa1.north) |- (saB.west);
\draw[wire] (sa1.east) -| (sa4.north);
\draw[wire] (sa4.south) -- (sa4.south |- sa8.north);
\draw[wire] (sa3.south) -- (sa3.south |- sa6.north);
\draw[wire] (sa5.north) |- (sa3.west);
\draw[wire] (sa7.north) |- (sa3.east);
\draw[wire] (sa3.east) -- (sa3.east -| sa9.west);
\draw[wire] (sa9.south) -- (sa9.south |- sa10.north);
\draw[fat] (sa10.south) -- (sa10.south |- sa11.north);
% violet links
\draw[wire] (viB.20) -- (viB.20 -| vi1.west);
\draw[wire] (viB.-20) -- (viB.-20 -| vi2.west);
\draw[wire] (vi4.north) -- (vi4.north |- viB.south);
\draw[wire] (vi5.north) -- (vi5.north |- viB.south);
\draw[wire] (vi3.south) -- (vi3.south |- vi6.north);
\draw[fat] (vi6.south) -- (vi6.south |- vi8.north);
\draw[wire] (vi8.east) -- (vi8.east -| vi9.west);
\draw[fat] (vi7.south) -- (vi7.south |- vi10.north);
\draw[fat] (vi10.south) -- (vi10.south |- vi11.north);
\draw[fat] (viB.south) -- (viB.south |- b665);
\draw[wire] (viB.north) |- (gr16.east);
\draw[wire] (vi6.east) -- (vi6.east -| vi7.west);
\draw[wire] (vi11.west) -| (vi8.south);
% patterned links
\draw[wire] (pt1.east) -- (pt1.east -| pt2.west);
\draw[wire] (pt2.east) -- (pt2.east -| pt3.west);
\draw[wire] (pt3.east) -| (pt11.south);
\draw[wire] (pt4.east) -- (pt4.east -| pt5.west);
\draw[wire] (pt3.south) -- (pt3.south |- pt4.north);
\draw[wire] (pt6.east) -- (pt6.east -| pt7.west);
\draw[wire] (pt7.south) -- (pt7.south |- pt8.north);
\draw[wire] (pt8.east) -- (pt8.east -| ptB.west);
\draw[wire] (pt9.north) -- (pt9.north |- ptB.south);
\draw[wire] (pt10.north) -- (pt10.north |- ptB.south);
\draw[fat] (ptB.20) -- (ptB.20 -| grB.west);
\draw[fat] (bp1.north) -- (bp1.north |- ptB.south);
\draw[wire] (ptA.south) |- (ye15.east);
\draw[wire] (ye13.north) |- (ptA.west);
% blue links
\draw[wire] (bp2.north) |- (bpB.west);
\draw[wire] (bp3.north) -- (bp3.north |- bpB.south);
\draw[wire] (bp4.north) |- (bpB.east);
\draw[wire] (bp5.north) |- (bpB.east);
% cyan column links
\draw[fat] (cy1.east) -- (cy1.east -| colA.west);
\draw[fat] (cy2.east) -- (cy2.east -| colA.west);
\draw[fat] (cy3.east) -- (cy3.east -| colA.west);
\draw[fat] (cy4.east) -- (cy4.east -| colA.west);
\draw[wire] (cy5.-60) -- (cy5.-60 |- cy6.north);
\draw[wire] (cy6.east) -| (colA.south west);
\draw[fat] (or1.north) |- (cy6.south);
% orange links
\draw[wire] (or7.north |- colA.south) -- (or7.north);
\draw[fat] (or7.east) -- (or7.east -| orB.west);
\draw[fat] (or2.east) -| (or3.north);
\draw[wire] (or4.north |- or3.south) -- (or4.north);
\draw[fat] (or3.-60) -- (or3.-60 |- orB.north);
\draw[wire] (or5.south) |- (or8.north west);
\draw[wire] (or6.south) -- (or6.south |- or8.north);
\draw[wire] (or10.north |- orB.south) -- (or10.north);
\draw[wire] (or9.north) |- (orB.west);
\draw[wire] (or12.north |- or8.south) -- (or12.north);
\draw[wire] (or11.north) |- (orB.east);
\draw[wire] (orB.east) -- (orB.east -| or8.west);
% yellow links
\draw[wire] (ye13.south) -- (ye13.south |- ye14.north);
\draw[wire] (ye16.north) |- (ye14.east);
\draw[wire] (ye7.south) |- (ye6.east);
\draw[wire] (ye4.north) |- (ye1.east);
\draw[wire] (ye3.south) |- (ye4.east);
\draw[wire] (ye5.east) -| (ye6.south);
\draw[wire] (ye8.west) -| (ye5.south);
\draw[wire] (yeB1.north) |- (ye4.west);
\draw[fat] (yeB1.east) -- (yeB1.east -| yeB2.west);
\draw[wire] (ye10.north) -- (ye10.north |- yeB2.south);
\draw[wire] (ye11.north) |- (yeB2.east);
\draw[wire] (ye10.east) -- (ye10.east -| ye11.west);
\draw[wire] (yeB2.east) -| (ye9.north);
\draw[wire] (ye17.west) -- (ye17.west -| yeB2.east);
\draw[wire] (ye2.east) -| (yeB1.north);
\draw[wire] (ye12.east) -- (ye12.east -| ye16.west);
\draw[wire] (ye15.west) -| (ye12.north);
\draw[wire] (ye18.north) -- (ye18.north |- ye17.south);
\draw[wire] (ye1.north) |- (colA.east);
\end{scope}
\end{tikzpicture}
\end{document}
